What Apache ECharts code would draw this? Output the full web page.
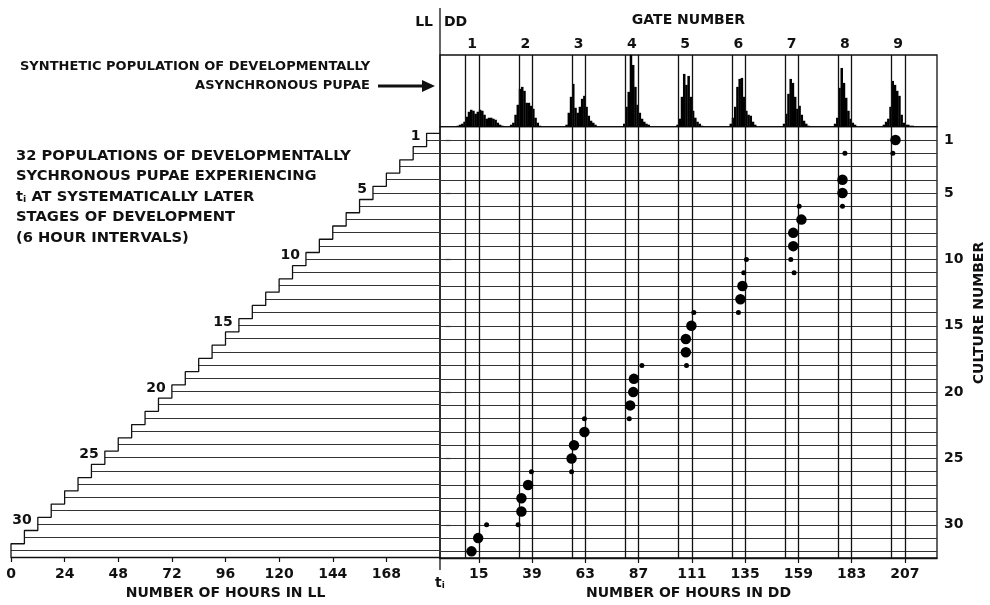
<!DOCTYPE html>
<html>
<head>
<meta charset="utf-8">
<script src="https://cdn.jsdelivr.net/npm/echarts@6/dist/echarts.min.js"></script>
<style>
  html, body { margin: 0; background: #fff; }
  #main { width: 990px; height: 605px; }
</style>
</head>
<body>
<div id="main"></div>
<script>
// culture k (1..32) started this many hours into LL
var llStart = [186, 180, 174, 168, 162, 156, 150, 144, 138, 132, 126, 120, 114, 108, 102, 96,
               90, 84, 78, 72, 66, 60, 54, 48, 42, 36, 30, 24, 18, 12, 6, 0];
var stairLabels = [1, 5, 10, 15, 20, 25, 30];
var llTicks = [0, 24, 48, 72, 96, 120, 144, 168];
var ddTicks = [15, 39, 63, 87, 111, 135, 159, 183, 207];
var cultureTicks = [1, 5, 10, 15, 20, 25, 30];

// gate windows in DD hours
var gateOpen  = [9, 33, 57, 81, 105, 129, 153, 177, 201];
var gateClose = [15, 39, 63, 87, 111, 135, 159, 183, 207];
var gateNames = ['1', '2', '3', '4', '5', '6', '7', '8', '9'];
var gateMid   = [12, 36, 60, 84, 108, 132, 156, 180, 204];

// synthetic population histogram, 1 h bins, first bin hour per gate
var histStart = [5, 29, 54, 80, 104, 128, 152, 175, 197];
var histHeights = [
  [1, 2, 3, 5, 10, 15, 17, 16, 13, 15, 17, 16, 12, 8, 9, 9, 8, 7, 4, 2, 1],
  [2, 4, 12, 22, 38, 40, 36, 24, 24, 21, 18, 9, 4, 1],
  [2, 14, 30, 43, 19, 14, 20, 28, 31, 20, 11, 6, 4, 2],
  [3, 20, 35, 72, 62, 40, 22, 14, 8, 5, 3, 2],
  [2, 8, 30, 53, 42, 51, 30, 16, 9, 5, 3, 1],
  [3, 9, 20, 40, 48, 49, 30, 16, 12, 11, 5, 2],
  [3, 13, 33, 48, 44, 30, 18, 21, 12, 6, 3, 1],
  [3, 9, 39, 59, 44, 29, 16, 8, 4, 2],
  [2, 5, 8, 20, 46, 42, 36, 31, 12, 4, 2, 2, 1, 1]
];

// emergence of each culture: [hour in DD, culture number]
var bigDotHour = [202.8, 178.9, 178.9, 160.4, 156.7, 156.7, 133.8, 132.9, 110.8, 108.3, 108.3,
                  84.9, 84.6, 83.2, 62.6, 57.9, 56.8, 37.2, 34.2, 34.2, 14.7, 11.7];
var bigDotRow  = [1, 4, 5, 7, 8, 9, 12, 13, 15, 16, 17, 19, 20, 21, 23, 24, 25, 27, 28, 29, 31, 32];
var smallDotHour = [180, 201.6, 178.9, 159.4, 155.6, 135.6, 157.1, 134.4, 132, 111.9,
                    108.6, 88.5, 82.8, 62.6, 56.8, 38.7, 32.7, 18.5];
var smallDotRow  = [2, 2, 6, 6, 10, 10, 11, 11, 14, 14, 18, 18, 22, 22, 26, 26, 30, 30];

var FONT = 'DejaVu Sans';
var INK = '#111';
var FS = 14;
var ddMin = -2.5, ddMax = 221.5, rowMax = 32.5;

function txt(size) {
  return { fontFamily: FONT, fontWeight: 'bold', fontSize: size || FS, color: INK };
}

// staircase
var stair = [];
for (var k = llStart.length; k >= 1; k--) stair.push([llStart[k - 1], k + 0.5]);
stair.push([192, 0.5]);

var llRows = [], ddRows = [];
llStart.forEach(function (h, i) {
  llRows.push({ coords: [[h, i + 1], [192, i + 1]] });
  ddRows.push({ coords: [[ddMin, i + 1], [ddMax, i + 1]] });
});

var gateMain = [], gateHist = [];
gateOpen.concat(gateClose).forEach(function (g) {
  gateMain.push({ coords: [[g, 0], [g, rowMax]] });
  gateHist.push({ coords: [[g, 0], [g, 72]] });
});

var histData = [];
histStart.forEach(function (s, i) {
  histHeights[i].forEach(function (v, j) { histData.push([s + j, v]); });
});

var stairLabelData = stairLabels.map(function (k) { return [llStart[k - 1], k - 0.25, String(k)]; });
var bigDots = bigDotHour.map(function (h, i) { return [h, bigDotRow[i]]; });
var smallDots = smallDotHour.map(function (h, i) { return [h, smallDotRow[i]]; });

var chart = echarts.init(document.getElementById('main'));
var option = {
  backgroundColor: '#fff',
  animation: false,
  grid: [
    { left: 11, width: 429, top: 126.7, height: 433.3 },
    { left: 440, width: 497, top: 126.7, height: 432, show: true, borderColor: INK, borderWidth: 1.3 },
    { left: 440, width: 497, top: 55, height: 71.7, show: true, borderColor: INK, borderWidth: 1.3 }
  ],
  xAxis: [
    {
      gridIndex: 0, type: 'value', min: 0, max: 192,
      axisLine: { onZero: false, lineStyle: { color: INK, width: 1.3 } },
      axisTick: { customValues: llTicks, length: 5, lineStyle: { color: INK, width: 1.2 } },
      axisLabel: { customValues: llTicks, margin: 10, fontFamily: FONT, fontWeight: 'bold', fontSize: FS, color: INK },
      splitLine: { show: false },
      name: 'NUMBER OF HOURS IN LL', nameLocation: 'middle', nameGap: 29,
      nameTextStyle: txt()
    },
    {
      gridIndex: 1, type: 'value', min: ddMin, max: ddMax,
      axisLine: { onZero: false, lineStyle: { color: INK, width: 1.3 } },
      axisTick: { customValues: ddTicks, length: 5, lineStyle: { color: INK, width: 1.2 } },
      axisLabel: { customValues: ddTicks, margin: 9, fontFamily: FONT, fontWeight: 'bold', fontSize: FS, color: INK },
      splitLine: { show: false },
      name: 'NUMBER OF HOURS IN DD', nameLocation: 'middle', nameGap: 28,
      nameTextStyle: txt()
    },
    {
      gridIndex: 2, type: 'value', min: ddMin, max: ddMax, position: 'top',
      axisLine: { show: false },
      axisTick: { show: false },
      axisLabel: {
        customValues: gateMid, margin: 4, fontFamily: FONT, fontWeight: 'bold', fontSize: FS, color: INK,
        formatter: function (v) { return gateNames[gateMid.indexOf(v)]; }
      },
      splitLine: { show: false },
      name: 'GATE NUMBER', nameLocation: 'middle', nameGap: 28,
      nameTextStyle: txt()
    }
  ],
  yAxis: [
    { gridIndex: 0, type: 'value', min: 0, max: rowMax, inverse: true, show: false },
    {
      gridIndex: 1, type: 'value', min: 0, max: rowMax, inverse: true, position: 'right',
      axisLine: { show: false },
      axisTick: { customValues: cultureTicks, length: 5, lineStyle: { color: INK, width: 1.2 } },
      axisLabel: { customValues: cultureTicks, margin: 7, fontFamily: FONT, fontWeight: 'bold', fontSize: FS, color: INK },
      splitLine: { show: false }
    },
    { gridIndex: 2, type: 'value', min: 0, max: 72, show: false }
  ],
  series: [
    {
      type: 'line', xAxisIndex: 0, yAxisIndex: 0, data: stair, step: 'start',
      symbol: 'none', lineStyle: { color: INK, width: 1.3 }
    },
    {
      type: 'lines', coordinateSystem: 'cartesian2d', xAxisIndex: 0, yAxisIndex: 0,
      data: llRows, lineStyle: { color: '#333', width: 1, opacity: 1 }
    },
    {
      type: 'scatter', xAxisIndex: 0, yAxisIndex: 0, data: stairLabelData,
      symbolSize: 0.1, itemStyle: { color: INK, opacity: 1 },
      label: {
        show: true, position: 'left', distance: 6,
        formatter: function (p) { return p.value[2]; },
        fontFamily: FONT, fontWeight: 'bold', fontSize: FS, color: INK, opacity: 1
      }
    },
    {
      type: 'lines', coordinateSystem: 'cartesian2d', xAxisIndex: 1, yAxisIndex: 1,
      data: ddRows, lineStyle: { color: '#333', width: 1, opacity: 1 }
    },
    {
      type: 'lines', coordinateSystem: 'cartesian2d', xAxisIndex: 1, yAxisIndex: 1,
      data: gateMain, lineStyle: { color: INK, width: 1.3, opacity: 1 }
    },
    {
      type: 'scatter', xAxisIndex: 1, yAxisIndex: 1, data: bigDots,
      symbolSize: 10.5, itemStyle: { color: '#000', opacity: 1 }
    },
    {
      type: 'scatter', xAxisIndex: 1, yAxisIndex: 1, data: smallDots,
      symbolSize: 5, itemStyle: { color: '#000', opacity: 1 }
    },
    {
      type: 'custom', xAxisIndex: 2, yAxisIndex: 2, data: histData,
      renderItem: function (params, api) {
        var a = api.coord([api.value(0), 0]);
        var b = api.coord([api.value(0) + 1, api.value(1)]);
        return {
          type: 'rect',
          shape: { x: a[0], y: b[1], width: b[0] - a[0] + 0.3, height: a[1] - b[1] },
          style: { fill: '#000' }
        };
      }
    },
    {
      type: 'lines', coordinateSystem: 'cartesian2d', xAxisIndex: 2, yAxisIndex: 2,
      data: gateHist, lineStyle: { color: INK, width: 1.3, opacity: 1 }
    }
  ],
  graphic: [
    // LL | DD divider
    { type: 'line', shape: { x1: 440, y1: 8, x2: 440, y2: 570 }, style: { stroke: INK, lineWidth: 1.3 } },
    { type: 'text', x: 433, y: 22, style: { text: 'LL', align: 'right', verticalAlign: 'middle', fontFamily: FONT, fontWeight: 'bold', fontSize: FS, fill: INK } },
    { type: 'text', x: 444, y: 22, style: { text: 'DD', align: 'left', verticalAlign: 'middle', fontFamily: FONT, fontWeight: 'bold', fontSize: FS, fill: INK } },
    {
      type: 'text', x: 440, y: 583,
      style: {
        text: '{t|t}{i|i}', align: 'center', verticalAlign: 'middle',
        rich: {
          t: { fontFamily: FONT, fontWeight: 'bold', fontSize: FS, fill: INK },
          i: { fontFamily: FONT, fontWeight: 'bold', fontSize: 9, fill: INK, padding: [6, 0, 0, 0] }
        }
      }
    },
    {
      type: 'text', x: 20, y: 67,
      style: { text: 'SYNTHETIC POPULATION OF DEVELOPMENTALLY', fontFamily: FONT, fontWeight: 'bold', fontSize: 13, fill: INK, verticalAlign: 'middle' }
    },
    {
      type: 'text', x: 370, y: 86,
      style: { text: 'ASYNCHRONOUS PUPAE', align: 'right', fontFamily: FONT, fontWeight: 'bold', fontSize: 13, fill: INK, verticalAlign: 'middle' }
    },
    { type: 'line', shape: { x1: 378, y1: 86, x2: 424, y2: 86 }, style: { stroke: INK, lineWidth: 3 } },
    { type: 'polygon', shape: { points: [[422, 80], [435, 86], [422, 92]] }, style: { fill: INK } },
    {
      type: 'text', x: 16, y: 146, scaleX: 1.05,
      style: {
        text: '32 POPULATIONS OF DEVELOPMENTALLY\nSYCHRONOUS PUPAE EXPERIENCING\n{t|t}{i|i} {n|AT SYSTEMATICALLY LATER}\nSTAGES OF DEVELOPMENT\n(6 HOUR INTERVALS)',
        fontFamily: FONT, fontWeight: 'bold', fontSize: FS, fill: INK, lineHeight: 20.5,
        rich: {
          t: { fontFamily: FONT, fontWeight: 'bold', fontSize: FS, fill: INK, lineHeight: 20.5 },
          i: { fontFamily: FONT, fontWeight: 'bold', fontSize: 9, fill: INK, lineHeight: 20.5, padding: [5, 0, 0, 0] },
          n: { fontFamily: FONT, fontWeight: 'bold', fontSize: FS, fill: INK, lineHeight: 20.5 }
        }
      }
    },
    {
      type: 'text', x: 979, y: 313, rotation: Math.PI / 2,
      style: { text: 'CULTURE NUMBER', align: 'center', verticalAlign: 'middle', fontFamily: FONT, fontWeight: 'bold', fontSize: FS, fill: INK }
    }
  ]
};
chart.setOption(option);
</script>
</body>
</html>
